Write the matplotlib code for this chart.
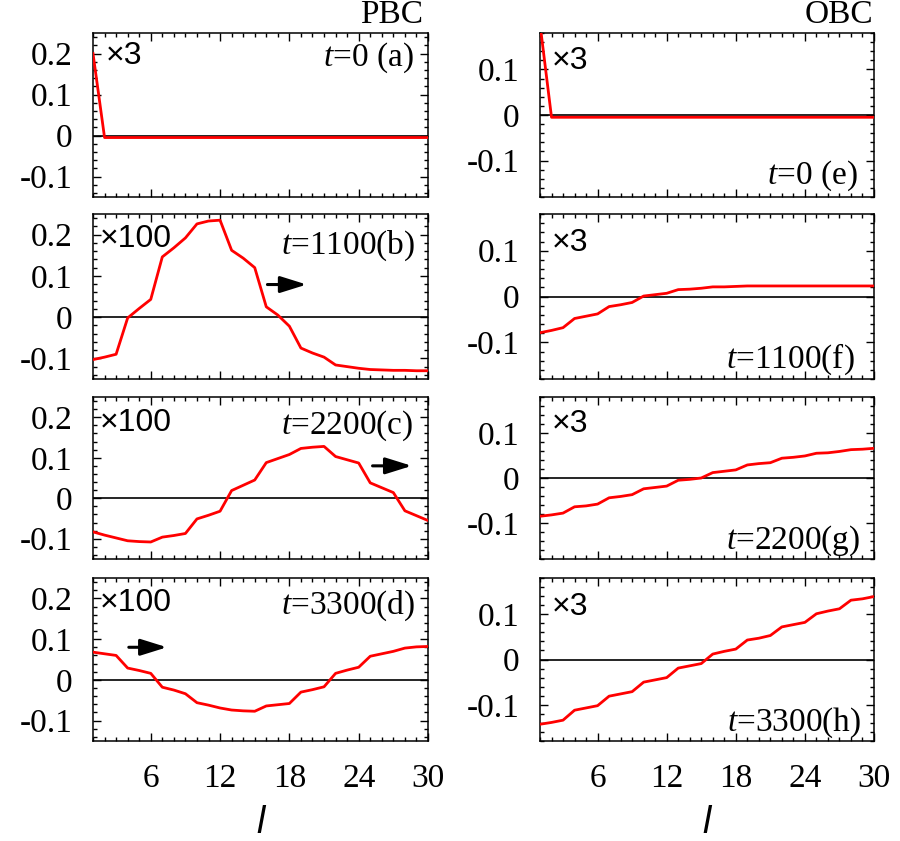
import matplotlib
matplotlib.use('Agg')
import matplotlib.pyplot as plt
from matplotlib.ticker import MultipleLocator, FuncFormatter

plt.rcParams['font.family'] = 'Liberation Serif'
plt.rcParams['mathtext.fontset'] = 'custom'
plt.rcParams['mathtext.rm'] = 'Liberation Serif'
plt.rcParams['mathtext.it'] = 'Liberation Serif:italic'
plt.rcParams['axes.unicode_minus'] = False

# site index
sites = list(range(1, 31))

# PBC column (left), scaled values
pbc_t0 = [0.200, -0.005, -0.005, -0.005, -0.005, -0.005, -0.005, -0.005, -0.005, -0.005,
          -0.005, -0.005, -0.005, -0.005, -0.005, -0.005, -0.005, -0.005, -0.005, -0.005,
          -0.005, -0.005, -0.005, -0.005, -0.005, -0.005, -0.005, -0.005, -0.005, -0.005]
pbc_t1100 = [-0.103, -0.097, -0.090, -0.002, 0.021, 0.043, 0.146, 0.168, 0.192, 0.226,
             0.233, 0.235, 0.162, 0.143, 0.120, 0.025, 0.005, -0.022, -0.075, -0.087,
             -0.097, -0.116, -0.120, -0.124, -0.127, -0.128, -0.129, -0.129, -0.130, -0.130]
pbc_t2200 = [-0.083, -0.091, -0.098, -0.105, -0.107, -0.108, -0.096, -0.092, -0.087, -0.051,
             -0.042, -0.032, 0.019, 0.032, 0.045, 0.088, 0.098, 0.108, 0.123, 0.126,
             0.128, 0.103, 0.095, 0.087, 0.038, 0.026, 0.014, -0.031, -0.043, -0.055]
pbc_t3300 = [0.068, 0.064, 0.060, 0.029, 0.023, 0.016, -0.018, -0.025, -0.034, -0.056,
             -0.062, -0.069, -0.074, -0.076, -0.077, -0.064, -0.061, -0.058, -0.030, -0.024,
             -0.017, 0.016, 0.024, 0.031, 0.058, 0.064, 0.070, 0.078, 0.081, 0.082]

# OBC column (right)
obc_t0 = [0.200, -0.005, -0.005, -0.005, -0.005, -0.005, -0.005, -0.005, -0.005, -0.005,
          -0.005, -0.005, -0.005, -0.005, -0.005, -0.005, -0.005, -0.005, -0.005, -0.005,
          -0.005, -0.005, -0.005, -0.005, -0.005, -0.005, -0.005, -0.005, -0.005, -0.005]
obc_t1100 = [-0.079, -0.074, -0.068, -0.048, -0.043, -0.038, -0.022, -0.018, -0.013, 0.001,
             0.004, 0.007, 0.015, 0.016, 0.018, 0.021, 0.021, 0.022, 0.023, 0.023,
             0.023, 0.023, 0.023, 0.023, 0.023, 0.023, 0.023, 0.023, 0.023, 0.023]
obc_t2200 = [-0.085, -0.082, -0.078, -0.064, -0.062, -0.058, -0.044, -0.041, -0.037, -0.024,
             -0.021, -0.018, -0.005, -0.003, 0.000, 0.012, 0.015, 0.018, 0.029, 0.032,
             0.034, 0.044, 0.046, 0.049, 0.055, 0.056, 0.059, 0.063, 0.064, 0.066]
obc_t3300 = [-0.143, -0.139, -0.134, -0.112, -0.107, -0.102, -0.081, -0.076, -0.071, -0.050,
             -0.045, -0.040, -0.019, -0.014, -0.009, 0.012, 0.018, 0.023, 0.043, 0.047,
             0.053, 0.072, 0.077, 0.082, 0.101, 0.107, 0.112, 0.131, 0.134, 0.139]

pbc_series = [pbc_t0, pbc_t1100, pbc_t2200, pbc_t3300]
obc_series = [obc_t0, obc_t1100, obc_t2200, obc_t3300]
times = ['0', '1100', '2200', '3300']
pbc_letters = ['(a)', '(b)', '(c)', '(d)']
obc_letters = ['(e)', '(f)', '(g)', '(h)']
pbc_scale = ['×3', '×100', '×100', '×100']
obc_scale = ['×3', '×3', '×3', '×3']
# arrows in PBC panels b-d: (x_start, x_end, y)
arrows = {1: (16.1, 19.5, 0.079), 2: (25.2, 28.6, 0.080), 3: (4.1, 7.4, 0.080)}

W, H = 900, 841
fig = plt.figure(figsize=(9, 8.41), dpi=100)

row_px = [(33, 197), (214, 379), (397, 559), (578, 741)]
col_px = [(93, 428), (540, 874)]

SERIF = 'Liberation Serif'
SANS = 'Liberation Sans'
FS = 24

def fmt(v, pos):
    return '%g' % round(v, 3)

def style_axes(ax, ylim, ymajor, bottom):
    ax.set_xlim(1, 30)
    ax.set_ylim(*ylim)
    ax.axhline(0, color='k', lw=1.2, zorder=1)
    ax.xaxis.set_major_locator(MultipleLocator(6))
    ax.xaxis.set_minor_locator(MultipleLocator(1))
    ax.set_yticks(ymajor)
    ax.yaxis.set_minor_locator(MultipleLocator(0.02))
    ax.yaxis.set_major_formatter(FuncFormatter(fmt))
    ax.xaxis.set_major_formatter(FuncFormatter(fmt))
    ax.tick_params(which='both', direction='in', top=True, right=True,
                   labelsize=FS, width=1.0, labelfontfamily=SERIF)
    ax.tick_params(which='major', length=6)
    ax.tick_params(which='minor', length=3)
    ax.tick_params(axis='y', pad=15)
    ax.tick_params(axis='x', pad=16)
    if not bottom:
        ax.tick_params(labelbottom=False)
    for s in ax.spines.values():
        s.set_linewidth(1.1)

pbc_tpos = [0.85, 0.806, 0.822, 0.829]
pbc_xpos = [0.956, 0.961, 0.956, 0.961]
pbc_spos = [(0.039, 0.86), (0.021, 0.85), (0.021, 0.84), (0.021, 0.847)]
obc_tpos = [(0.952, 0.128), (0.943, 0.117), (0.96, 0.112), (0.963, 0.111)]
obc_spos = [0.827, 0.825, 0.833, 0.821]

for i in range(4):
    top, bot = row_px[i]
    rect_b = 1 - bot / H
    rect_h = (bot - top) / H
    # PBC
    x0, x1 = col_px[0]
    ax = fig.add_axes([x0 / W, rect_b, (x1 - x0) / W, rect_h])
    style_axes(ax, (-0.15, 0.25), [-0.1, 0, 0.1, 0.2], i == 3)
    ax.plot(sites, pbc_series[i], color='red', lw=2.0, zorder=3)
    ax.text(pbc_xpos[i], pbc_tpos[i], '$t$=' + times[i] + (' ' if i == 0 else '') + pbc_letters[i],
            transform=ax.transAxes, ha='right', va='center', fontsize=FS, family=SERIF)
    ax.text(pbc_spos[i][0], pbc_spos[i][1], pbc_scale[i], transform=ax.transAxes,
            ha='left', va='center', fontsize=23, family=SANS)
    if i in arrows:
        xa, xb, ya = arrows[i]
        ax.annotate('', xy=(xb, ya), xytext=(xa, ya),
                    arrowprops=dict(arrowstyle='-|>,head_length=0.8,head_width=0.25',
                                    color='k', lw=2.2, mutation_scale=20,
                                    shrinkA=0, shrinkB=0))
    if i == 0:
        ax.text(0.985, 1.02, 'PBC', transform=ax.transAxes, ha='right', va='bottom',
                fontsize=FS, family=SERIF)
    if i == 3:
        ax.set_xlabel('l', family=SANS, style='italic', fontsize=27, labelpad=8)
    # OBC
    x0, x1 = col_px[1]
    ax = fig.add_axes([x0 / W, rect_b, (x1 - x0) / W, rect_h])
    style_axes(ax, (-0.18, 0.18), [-0.1, 0, 0.1], i == 3)
    ax.plot(sites, obc_series[i], color='red', lw=2.0, zorder=3)
    ax.text(obc_tpos[i][0], obc_tpos[i][1], '$t$=' + times[i] + (' ' if i == 0 else '') + obc_letters[i],
            transform=ax.transAxes, ha='right', va='center', fontsize=FS, family=SERIF)
    ax.text(0.035, obc_spos[i], obc_scale[i], transform=ax.transAxes,
            ha='left', va='center', fontsize=23, family=SANS)
    if i == 0:
        ax.text(0.997, 1.02, 'OBC', transform=ax.transAxes, ha='right', va='bottom',
                fontsize=FS, family=SERIF)
    if i == 3:
        ax.set_xlabel('l', family=SANS, style='italic', fontsize=27, labelpad=8)

fig.savefig('out.png', dpi=100)
